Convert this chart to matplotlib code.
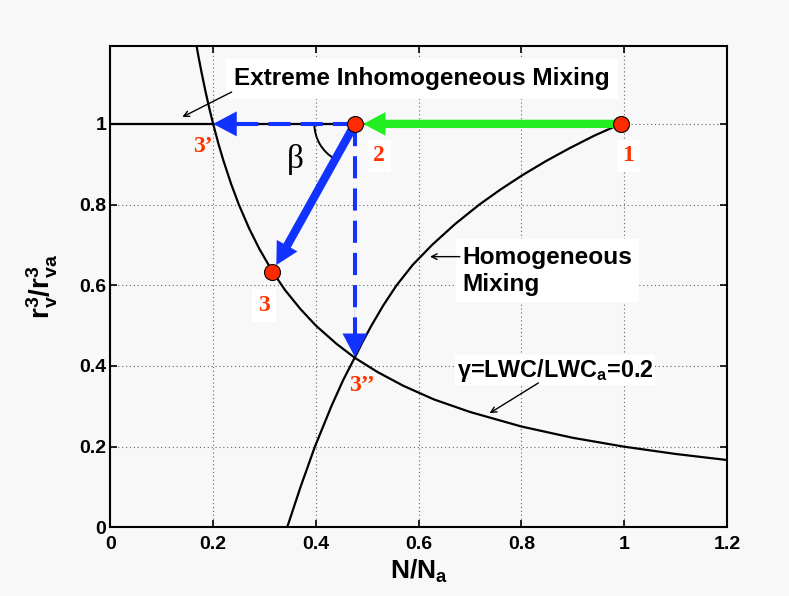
import matplotlib.pyplot as plt
from matplotlib.patches import Arc

plt.rcParams['font.family'] = 'Liberation Sans'
plt.rcParams['font.weight'] = 'bold'
plt.rcParams['mathtext.fontset'] = 'custom'
plt.rcParams['mathtext.rm'] = 'Liberation Sans:bold'
plt.rcParams['mathtext.it'] = 'Liberation Sans:bold'
plt.rcParams['mathtext.bf'] = 'Liberation Sans:bold'

# curves
gamma_x = [0.167, 0.172, 0.178, 0.185, 0.193, 0.2, 0.21, 0.22, 0.235, 0.25,
           0.27, 0.29, 0.315, 0.34, 0.37, 0.4, 0.44, 0.476, 0.52, 0.57,
           0.63, 0.7, 0.8, 0.9, 1.0, 1.1, 1.2]
gamma_y = [1.198, 1.163, 1.124, 1.081, 1.036, 1.0, 0.952, 0.909, 0.851, 0.8,
           0.741, 0.69, 0.635, 0.588, 0.541, 0.5, 0.455, 0.42, 0.385, 0.351,
           0.317, 0.286, 0.25, 0.222, 0.2, 0.182, 0.167]

homog_x = [0.344, 0.37, 0.398, 0.43, 0.453, 0.476, 0.491, 0.508, 0.531,
           0.557, 0.588, 0.626, 0.671, 0.718, 0.76, 0.802, 0.848, 0.894,
           0.942, 0.993]
homog_y = [0.0, 0.1, 0.2, 0.3, 0.365, 0.422, 0.46, 0.5, 0.55,
           0.6, 0.65, 0.7, 0.752, 0.8, 0.838, 0.873, 0.908, 0.94,
           0.971, 1.0]

inhom_x = [0.0, 1.0]
inhom_y = [1.0, 1.0]

# mixing states 1, 2, 3 and the end points 3', 3''
pt_x = [0.993, 0.476, 0.315]
pt_y = [1.0, 1.0, 0.632]
p3a = (0.2, 1.0)
p3b = (0.476, 0.422)

blue = '#1233ff'
green = '#22ee22'
red = '#ff2a00'
lab_red = '#ff3300'

fig = plt.figure(figsize=(7.89, 5.96), dpi=100, facecolor='#f8f8f8')
ax = fig.add_axes([0.1399, 0.1151, 0.7815, 0.8077], facecolor='#f8f8f8')

ax.plot(gamma_x, gamma_y, color='black', lw=1.6, zorder=3)
ax.plot(homog_x, homog_y, color='black', lw=1.6, zorder=3)
ax.plot(inhom_x, inhom_y, color='black', lw=1.6, zorder=3)

head = 'simple,head_length=1.6,head_width=1.7,tail_width=0.6'

# 1 -> 2, green
ax.annotate('', xy=(pt_x[1], pt_y[1]), xytext=(pt_x[0], pt_y[0]),
            arrowprops=dict(arrowstyle=head, mutation_scale=10, color=green,
                            lw=0, shrinkA=0, shrinkB=6), zorder=4)
# 2 -> 3, solid blue
ax.annotate('', xy=(pt_x[2], pt_y[2]), xytext=(pt_x[1], pt_y[1]),
            arrowprops=dict(arrowstyle=head, mutation_scale=10, color=blue,
                            lw=0, shrinkA=0, shrinkB=6), zorder=4)

# 2 -> 3' and 2 -> 3'', dashed blue
ax.plot([pt_x[1], p3a[0] + 0.042], [pt_y[1], p3a[1]], color=blue, lw=2.9,
        dashes=(5.5, 2.5), zorder=4)
ax.plot([pt_x[1], p3b[0]], [pt_y[1], p3b[1] + 0.052], color=blue, lw=2.9,
        dashes=(5.5, 2.5), zorder=4)
dhead = 'simple,head_length=1.7,head_width=1.8,tail_width=0.01'
ax.annotate('', xy=p3a, xytext=(p3a[0] + 0.1, p3a[1]),
            arrowprops=dict(arrowstyle=dhead, mutation_scale=10, color=blue,
                            lw=0, shrinkA=0, shrinkB=0), zorder=4)
ax.annotate('', xy=p3b, xytext=(p3b[0], p3b[1] + 0.12),
            arrowprops=dict(arrowstyle=dhead, mutation_scale=10, color=blue,
                            lw=0, shrinkA=0, shrinkB=0), zorder=4)

ax.plot(pt_x, pt_y, 'o', ms=11.5, mfc=red, mec='black', mew=0.8, zorder=6)

# beta angle
ax.add_patch(Arc((pt_x[1], pt_y[1]), 0.158, 0.2, theta1=180, theta2=246,
                 color='black', lw=1.4, zorder=3))
ax.text(0.359, 0.912, 'β', fontsize=24, family='Liberation Serif',
        fontweight='normal', ha='center', va='center')

# point labels
box = dict(facecolor='white', edgecolor='none', pad=4)
num = dict(fontsize=17, family='Liberation Serif', fontweight='bold',
           color=lab_red, ha='center', va='center')
ax.text(1.008, 0.921, '1', bbox=box, **num)
ax.text(0.523, 0.921, '2', bbox=box, **num)
ax.text(0.299, 0.55, '3', bbox=box, **num)
ax.text(0.18, 0.944, "3’", **num)
ax.text(0.49, 0.352, "3’’", **num)

# annotations
arw = dict(arrowstyle='->', color='black', lw=1, shrinkA=0, shrinkB=0)
ax.text(0.241, 1.112, 'Extreme Inhomogeneous Mixing', fontsize=17.6,
        ha='left', va='center',
        bbox=dict(facecolor='white', edgecolor='none', pad=6))
ax.annotate('', xy=(0.14, 1.017), xytext=(0.236, 1.079), arrowprops=arw)

ax.text(0.685, 0.636, 'Homogeneous\nMixing', fontsize=17.6, ha='left',
        va='center', linespacing=1.2,
        bbox=dict(facecolor='white', edgecolor='none', pad=5))
ax.annotate('', xy=(0.622, 0.671), xytext=(0.68, 0.671), arrowprops=arw)

ax.text(0.674, 0.39, 'γ=LWC/LWC$_a$=0.2', fontsize=16.8, ha='left',
        va='center', bbox=dict(facecolor='white', edgecolor='none', pad=1))
ax.annotate('', xy=(0.738, 0.283), xytext=(0.833, 0.358), arrowprops=arw)

ax.set_xlim(0, 1.2)
ax.set_ylim(0, 1.193)
ax.set_xticks([0, 0.2, 0.4, 0.6, 0.8, 1.0, 1.2])
ax.set_xticklabels(['0', '0.2', '0.4', '0.6', '0.8', '1', '1.2'])
ax.set_yticks([0, 0.2, 0.4, 0.6, 0.8, 1.0])
ax.set_yticklabels(['0', '0.2', '0.4', '0.6', '0.8', '1'])
ax.tick_params(direction='in', length=5, width=1.2, top=True, right=True,
               labelsize=14)
ax.tick_params(axis='x', pad=6)
ax.tick_params(axis='y', pad=3)
ax.grid(True, color='#666666', lw=0.8, linestyle=(0, (1, 2.5)))
for s in ax.spines.values():
    s.set_linewidth(1.5)

ax.set_xlabel('N/N$_a$', fontsize=19, fontweight='bold', labelpad=4)
ax.set_ylabel('r$^3_v$/r$^3_{va}$', fontsize=20, fontweight='bold',
              labelpad=14)

fig.savefig('out.png', dpi=100, facecolor=fig.get_facecolor())
